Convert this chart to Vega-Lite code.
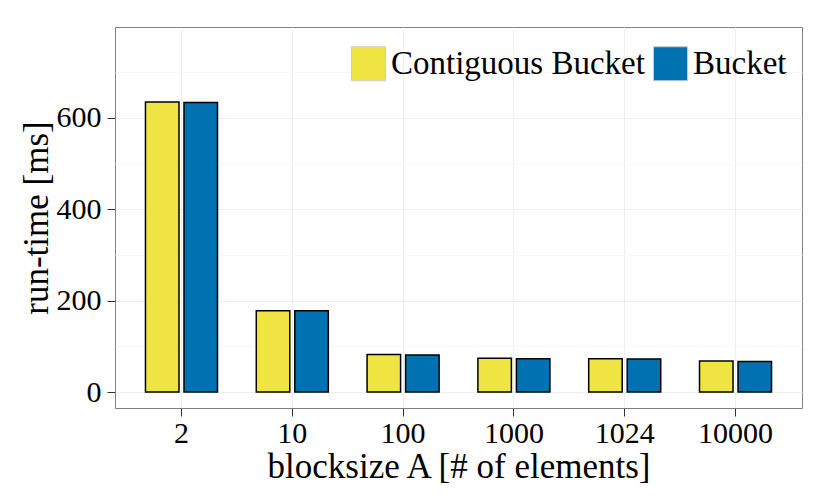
{
  "$schema": "https://vega.github.io/schema/vega-lite/v6.json",
  "width": 687,
  "height": 381,
  "autosize": {"type": "none"},
  "padding": {"left": 115, "top": 27, "right": 28, "bottom": 90},
  "background": "white",
  "data": {
    "values": [
      {"blocksize": "2", "impl": "Contiguous Bucket", "runtime": 635},
      {"blocksize": "2", "impl": "Bucket", "runtime": 634},
      {"blocksize": "10", "impl": "Contiguous Bucket", "runtime": 178},
      {"blocksize": "10", "impl": "Bucket", "runtime": 178},
      {"blocksize": "100", "impl": "Contiguous Bucket", "runtime": 82},
      {"blocksize": "100", "impl": "Bucket", "runtime": 81},
      {"blocksize": "1000", "impl": "Contiguous Bucket", "runtime": 74},
      {"blocksize": "1000", "impl": "Bucket", "runtime": 73},
      {"blocksize": "1024", "impl": "Contiguous Bucket", "runtime": 73},
      {"blocksize": "1024", "impl": "Bucket", "runtime": 72},
      {"blocksize": "10000", "impl": "Contiguous Bucket", "runtime": 68},
      {"blocksize": "10000", "impl": "Bucket", "runtime": 67}
    ]
  },
  "mark": {"type": "bar", "stroke": "black", "strokeWidth": 1.5},
  "encoding": {
    "x": {
      "field": "blocksize",
      "type": "nominal",
      "sort": ["2", "10", "100", "1000", "1024", "10000"],
      "scale": {"paddingInner": 0.35, "paddingOuter": 0.275},
      "title": "blocksize A [# of elements]",
      "axis": {
        "labelAngle": 0,
        "bandPosition": 0.5,
        "domain": false,
        "grid": true,
        "gridColor": "#EEEEEE",
        "tickColor": "#333333",
        "tickSize": 8,
        "labelPadding": 2,
        "titlePadding": 1
      }
    },
    "xOffset": {
      "field": "impl",
      "sort": ["Contiguous Bucket", "Bucket"],
      "scale": {"paddingInner": 0.13, "paddingOuter": 0}
    },
    "y": {
      "field": "runtime",
      "type": "quantitative",
      "scale": {"domain": [-35, 799], "nice": false, "zero": false},
      "title": "run-time [ms]",
      "axis": {
        "values": [0, 100, 200, 300, 400, 500, 600, 700],
        "labelExpr": "datum.value % 200 === 0 ? datum.label : ''",
        "domain": false,
        "grid": true,
        "gridColor": {"condition": {"test": "datum.value % 200 === 0", "value": "#EEEEEE"}, "value": "#F7F7F7"},
        "tickColor": {"condition": {"test": "datum.value % 200 === 0", "value": "#333333"}, "value": "transparent"},
        "tickSize": 8,
        "labelPadding": 6,
        "titlePadding": 2
      }
    },
    "color": {
      "field": "impl",
      "type": "nominal",
      "scale": {"domain": ["Contiguous Bucket", "Bucket"], "range": ["#F0E442", "#0072B2"]},
      "legend": {
        "title": null,
        "orient": "none",
        "legendX": 236,
        "legendY": 19,
        "direction": "horizontal",
        "padding": 0,
        "symbolType": "square",
        "symbolSize": 1156,
        "symbolStrokeColor": "#CCCCCC",
        "symbolStrokeWidth": 1,
        "labelOffset": 5,
        "columnPadding": 6,
        "labelFontSize": 33,
        "labelFont": "Liberation Serif",
        "labelColor": "black",
        "labelLimit": 400
      }
    }
  },
  "config": {
    "view": {"stroke": "#7F7F7F", "strokeWidth": 1},
    "axis": {
      "labelFont": "Liberation Serif",
      "labelFontSize": 30,
      "labelColor": "black",
      "titleFont": "Liberation Serif",
      "titleFontSize": 35,
      "titleFontWeight": "normal",
      "titleColor": "black",
      "gridWidth": 1
    }
  }
}
